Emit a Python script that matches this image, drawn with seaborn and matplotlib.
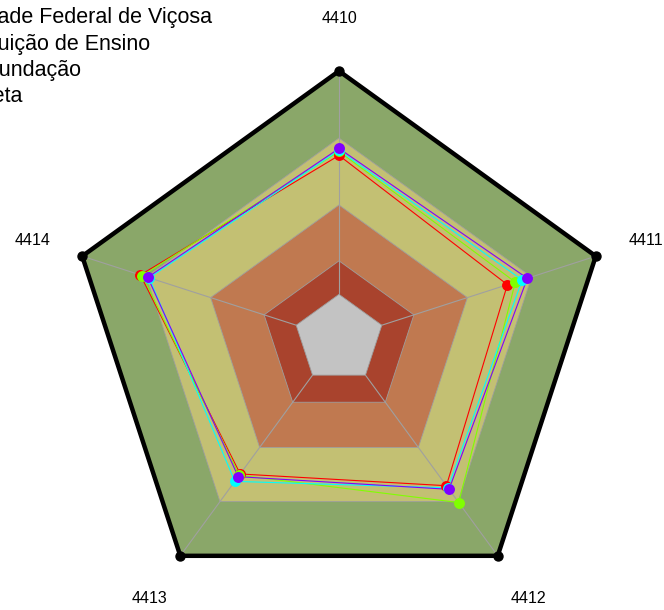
import numpy as np
import pandas as pd
import matplotlib
matplotlib.use("Agg")
import matplotlib.pyplot as plt
from matplotlib.lines import Line2D
import seaborn as sns

# Indicators on the radar axes (clockwise from the top)
indicators = ["4410", "4411", "4412", "4413", "4414"]

# Series names and their scores (0-100 scale)
series_names = [
    "Universidade Federal de Viçosa",
    "Sua Instituição de Ensino",
    "Grande Fundação",
    "Nossa Meta",
]
scores_ufv = [62.2, 58.7, 61.2, 54.7, 72.8]
scores_inst = [64.0, 62.4, 70.5, 55.4, 71.9]
scores_fund = [64.5, 65.6, 62.4, 58.8, 68.7]
scores_meta = [65.3, 68.0, 63.2, 56.2, 69.4]
series_colors = ["#FF0000", "#80FF00", "#00FFFF", "#8000FF"]

# Performance bands (upper limit of each band) and their fills
band_limits = [100, 70, 40, 15]
band_colors = ["#8AA769", "#C3C073", "#C07950", "#A9432D"]
hole_color = "#C3C3C3"

HOLE = 1 / 6  # radius of the empty centre


def to_radius(v):
    return HOLE + (1 - HOLE) * np.asarray(v, dtype=float) / 100.0


angles = np.deg2rad(90 - 72 * np.arange(len(indicators)))
cos_a, sin_a = np.cos(angles), np.sin(angles)
cos_c, sin_c = np.append(cos_a, cos_a[0]), np.append(sin_a, sin_a[0])

sns.set_theme(style="white")
plt.rcParams["font.family"] = ["Liberation Sans", "DejaVu Sans"]
plt.rcParams["text.color"] = "black"

fig = plt.figure(figsize=(6.64, 6.10), dpi=100)
ax = fig.add_axes([0, 0, 1, 1])
ax.set_xlim(-339 / 270, 325 / 270)
ax.set_ylim(-271 / 268, 339 / 268)
ax.axis("off")

# Concentric bands
for lim, col in zip(band_limits, band_colors):
    r = to_radius(lim)
    ax.fill(r * cos_c, r * sin_c, facecolor=col, edgecolor="#9E9E9E",
            linewidth=0.6, zorder=1)

# Spokes
for c, s in zip(cos_a, sin_a):
    ax.plot([HOLE * c, c], [HOLE * s, s], color="#A0A0A0", lw=0.8, zorder=2)

# Centre hole
ax.fill(HOLE * cos_c, HOLE * sin_c, facecolor=hole_color,
        edgecolor="#9E9E9E", linewidth=0.6, zorder=2.5)

# Outer frame with vertex dots
ax.plot(cos_c, sin_c, color="black", lw=3.2, zorder=3, solid_joinstyle="miter")
ax.scatter(cos_a, sin_a, s=42, color="black", zorder=3.5)

# Long-form table of the series
all_scores = [scores_ufv, scores_inst, scores_fund, scores_meta]
rows = []
for name, vals in zip(series_names, all_scores):
    r = to_radius(vals)
    for i, ind in enumerate(indicators):
        rows.append(dict(serie=name, indicador=ind, valor=vals[i],
                         x=r[i] * cos_a[i], y=r[i] * sin_a[i], ordem=i))
df = pd.DataFrame(rows)
closing = df[df["ordem"] == 0].assign(ordem=len(indicators))
df_closed = pd.concat([df, closing]).sort_values(["serie", "ordem"])

palette = dict(zip(series_names, series_colors))
for name in series_names:
    sub = df_closed[df_closed["serie"] == name]
    sns.lineplot(data=sub, x="x", y="y", color=palette[name], sort=False,
                 estimator=None, lw=0.8, legend=False, ax=ax, zorder=4)
for name in series_names:
    sub = df[df["serie"] == name]
    sns.scatterplot(data=sub, x="x", y="y", color=palette[name], s=62,
                    linewidth=0, legend=False, ax=ax, zorder=5)
ax.set_xlabel("")
ax.set_ylabel("")

# Axis labels
for ind, c, s in zip(indicators, cos_a, sin_a):
    ax.text(1.195 * c, 1.195 * s, ind, ha="center", va="center",
            fontsize=11.5, color="black", zorder=6)

# Legend
handles = [Line2D([], [], color=col, marker="o", lw=0.8, markersize=8)
           for col in series_colors]
fig.legend(handles, series_names, loc="upper left",
           bbox_to_anchor=(-152 / 664, 1 - 7.5 / 610), frameon=False,
           borderpad=0, borderaxespad=0, handlelength=2, handletextpad=0.8,
           labelspacing=0.24, fontsize=15.5, labelcolor="black")

fig.savefig("out.png", dpi=100)
